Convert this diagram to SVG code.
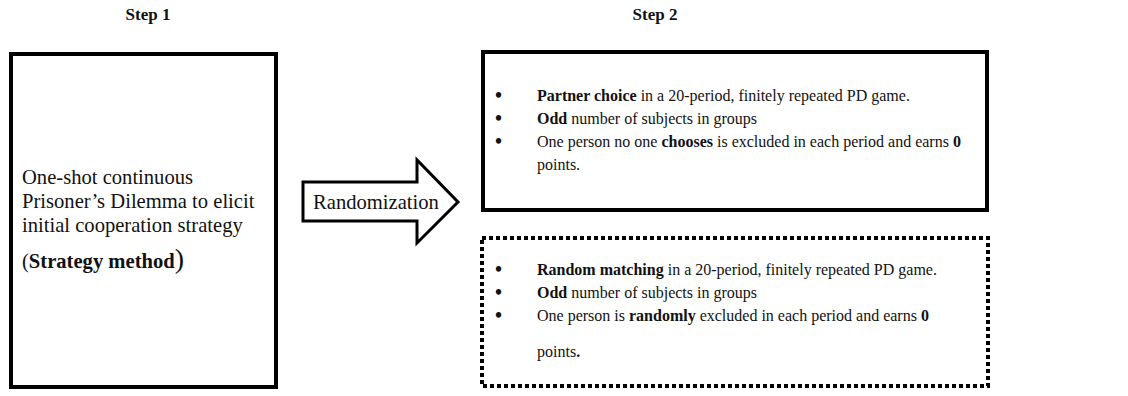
<svg xmlns="http://www.w3.org/2000/svg" width="1128" height="396" viewBox="0 0 1128 396">
<style>
text{font-family:"Liberation Serif","Times New Roman",serif;fill:#111}
.t{font-size:17px;font-weight:bold}
.l{font-size:20.6px}
.r{font-size:16px}
.b{font-weight:bold}
.dot{font-size:20px;font-weight:bold}
.box{fill:#fff;stroke:#000;stroke-width:4}
.dash{fill:#fff;stroke:#000;stroke-width:4;stroke-dasharray:4 3}
</style>
<rect width="1128" height="396" fill="#fff"/>
<text class="t" x="148" y="20" text-anchor="middle">Step 1</text>
<text class="t" x="655" y="20" text-anchor="middle">Step 2</text>
<g id="step1">
<rect class="box" x="11" y="54" width="265" height="333"/>
<text class="l" x="22" y="184">One-shot continuous</text>
<text class="l" x="22" y="208">Prisoner’s Dilemma to elicit</text>
<text class="l" x="22" y="232">initial cooperation strategy</text>
<text class="l" x="22" y="268">(<tspan class="b">Strategy method</tspan><tspan font-size="28">)</tspan></text>
</g>
<g id="connectors">
<g id="randomization">
<polygon points="303,182 417,182 417,160 458,202 417,243 417,221 303,221" fill="#fff" stroke="#000" stroke-width="3" stroke-linejoin="miter"/>
<text class="l" x="313" y="209">Randomization</text>
</g>
</g>
<g id="partner">
<rect class="box" x="483" y="52" width="504" height="158"/>
<text class="dot" x="495" y="102">•</text>
<text class="r" x="537" y="101"><tspan class="b">Partner choice</tspan> in a 20-period, finitely repeated PD game.</text>
<text class="dot" x="495" y="125">•</text>
<text class="r" x="537" y="124"><tspan class="b">Odd</tspan> number of subjects in groups</text>
<text class="dot" x="495" y="148">•</text>
<text class="r" x="537" y="147">One person no one <tspan class="b">chooses</tspan> is excluded in each period and earns <tspan class="b">0</tspan></text>
<text class="r" x="537" y="170">points.</text>
</g>
<g id="random">
<rect class="dash" x="482" y="238" width="506" height="148"/>
<text class="dot" x="495" y="276">•</text>
<text class="r" x="537" y="275"><tspan class="b">Random matching</tspan> in a 20-period, finitely repeated PD game.</text>
<text class="dot" x="495" y="299">•</text>
<text class="r" x="537" y="298"><tspan class="b">Odd</tspan> number of subjects in groups</text>
<text class="dot" x="495" y="322">•</text>
<text class="r" x="537" y="321">One person is <tspan class="b">randomly</tspan> excluded in each period and earns <tspan class="b">0</tspan></text>
<text class="r" x="537" y="357">points<tspan class="b">.</tspan></text>
</g>
</svg>
